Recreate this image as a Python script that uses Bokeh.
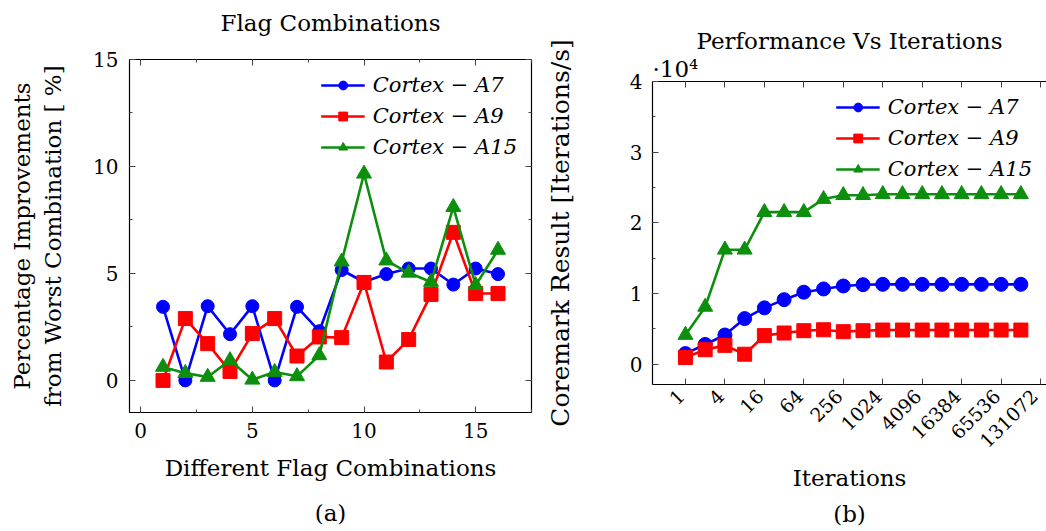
import math
from bokeh.plotting import figure
from bokeh.layouts import row, column
from bokeh.models import (Range1d, LinearAxis, LogAxis, FixedTicker,
                          SingleIntervalTicker, Title, CustomJSTickFormatter)
from bokeh.embed import file_html
from bokeh.resources import INLINE

FONT = "DejaVu Serif"

# ---------------- data: (a) Flag Combinations ----------------
combos = [1, 2, 3, 4, 5, 6, 7, 8, 9, 10, 11, 12, 13, 14, 15, 16]
a7_pct = [3.44, 0.0, 3.47, 2.16, 3.47, 0.0, 3.44, 2.30, 5.16, 4.60, 4.97, 5.23, 5.23, 4.48, 5.23, 4.97]
a9_pct = [0.0, 2.89, 1.72, 0.42, 2.19, 2.89, 1.14, 2.03, 2.00, 4.58, 0.86, 1.91, 4.02, 6.92, 4.06, 4.06]
a15_pct = [0.63, 0.34, 0.16, 0.94, 0.03, 0.39, 0.19, 1.17, 5.55, 9.66, 5.60, 5.03, 4.60, 8.10, 4.45, 6.10]

# ---------------- data: (b) Performance Vs Iterations ----------------
iterations = [1, 2, 4, 8, 16, 32, 64, 128, 256, 512, 1024, 2048, 4096, 8192,
              16384, 32768, 65536, 131072]
a7_perf = [1480, 2770, 4110, 6430, 7950, 9110, 10170, 10630, 11050, 11230, 11280,
           11280, 11280, 11280, 11280, 11280, 11280, 11280]
a9_perf = [920, 2030, 2640, 1390, 4020, 4390, 4720, 4850, 4580, 4720, 4810,
           4810, 4810, 4810, 4810, 4810, 4810, 4810]
a15_perf = [4110, 8090, 16180, 16180, 21500, 21500, 21500, 23350, 23900, 23900, 24040,
            24040, 24040, 24040, 24040, 24040, 24040, 24040]
iter_tick_labels = ["1", "4", "16", "64", "256", "1024", "4096", "16384", "65536", "131072"]
perf_tick_labels = ["0", "1", "2", "3", "4"]

series_names = ["Cortex \u2212 A7", "Cortex \u2212 A9", "Cortex \u2212 A15"]

BLUE = "#0000ff"
RED = "#ff0000"
GREEN = "#0c8f0c"

TICK_FS = "20px"
LABEL_FS = "23px"
TITLE_FS = "23px"
LEGEND_FS = "21px"


def style_axis(ax):
    ax.major_tick_in = 6
    ax.major_tick_out = 0
    ax.minor_tick_in = 3
    ax.minor_tick_out = 0
    ax.major_tick_line_color = "#444444"
    ax.minor_tick_line_color = "#444444"
    ax.major_label_text_font = FONT
    ax.major_label_text_font_size = TICK_FS
    ax.major_label_text_color = "black"
    ax.axis_label_text_font = FONT
    ax.axis_label_text_font_size = LABEL_FS
    ax.axis_label_text_font_style = "normal"
    ax.axis_label_text_color = "black"


def mirror_axis(cls, ticker):
    ax = cls(ticker=ticker)
    style_axis(ax)
    ax.formatter = CustomJSTickFormatter(code="return ''")
    ax.major_label_standoff = 0
    ax.axis_line_color = None
    return ax


def style_legend(p):
    leg = p.legend[0]
    leg.location = "top_right"
    leg.border_line_alpha = 0
    leg.background_fill_alpha = 0
    leg.label_text_font = FONT
    leg.label_text_font_style = "italic"
    leg.label_text_font_size = LEGEND_FS
    leg.label_text_color = "black"
    leg.glyph_width = 44
    leg.glyph_height = 22
    leg.label_height = 22
    leg.spacing = 7
    leg.label_standoff = 8
    leg.margin = 6
    leg.padding = 8


def title(text, size, align="center", standoff=0):
    return Title(text=text, align=align, text_font=FONT, text_font_size=size,
                 text_font_style="normal", text_color="black", standoff=standoff)


# ---------------- figure (a) ----------------
pa = figure(width=540, height=531, output_backend="svg", toolbar_location=None,
            x_range=Range1d(-0.5, 17.5), y_range=Range1d(-1.5, 15),
            min_border_left=129, min_border_right=9, min_border_top=59, min_border_bottom=119)
pa.grid.visible = False
pa.outline_line_color = "black"
pa.outline_line_width = 1.2

xt_a = SingleIntervalTicker(interval=5, num_minor_ticks=2)
yt_a = SingleIntervalTicker(interval=5, num_minor_ticks=2)
pa.xaxis[0].ticker = xt_a
pa.yaxis[0].ticker = yt_a
for ax in pa.axis:
    style_axis(ax)
    ax.axis_line_color = None
pa.xaxis[0].major_label_standoff = 10
pa.yaxis[0].major_label_standoff = 11
pa.xaxis[0].axis_label_standoff = 14
pa.yaxis[0].axis_label_standoff = 24
pa.xaxis[0].axis_label = "Different Flag Combinations\n(a)"
pa.xaxis[0].axis_label_text_line_height = 1.74
pa.yaxis[0].axis_label = "Percentage Improvements\nfrom Worst Combination [ %]"
top_a = mirror_axis(LinearAxis, xt_a)
top_a.axis_label = "Flag Combinations"
top_a.axis_label_standoff = 24
top_a.axis_label_text_font_size = TITLE_FS
pa.add_layout(top_a, "above")
pa.add_layout(mirror_axis(LinearAxis, yt_a), "right")

for vals, col, mk, sz, name in [(a7_pct, BLUE, "circle", 13, series_names[0]),
                                (a9_pct, RED, "square", 14, series_names[1]),
                                (a15_pct, GREEN, "triangle", 15, series_names[2])]:
    pa.line(combos, vals, line_color=col, line_width=2.6, legend_label=name)
    pa.scatter(combos, vals, marker=mk, size=sz, fill_color=col, line_color=col,
               legend_label=name)
style_legend(pa)

# ---------------- figure (b) ----------------
pb = figure(width=506, height=531, output_backend="svg", toolbar_location=None,
            x_axis_type="log",
            x_range=Range1d(2 ** -1.67, 2 ** 18.3), y_range=Range1d(-2900, 40000),
            min_border_left=112, min_border_right=0, min_border_top=81, min_border_bottom=141)
pb.title.text = "Performance Vs Iterations"
pb.title.align = "center"
pb.title.text_font = FONT
pb.title.text_font_size = TITLE_FS
pb.title.text_font_style = "normal"
pb.title.text_color = "black"
pb.title.standoff = 0
pb.grid.visible = False
pb.outline_line_color = None

tick_pos = [4 ** k for k in range(len(iter_tick_labels))]
xt_b = FixedTicker(ticks=tick_pos, minor_ticks=[])
yt_b = SingleIntervalTicker(interval=10000, num_minor_ticks=2)
pb.xaxis[0].ticker = xt_b
pb.yaxis[0].ticker = yt_b
for ax in pb.axis:
    style_axis(ax)
    ax.axis_line_color = "black"
    ax.axis_line_width = 1.2
pb.xaxis[0].major_label_overrides = {t: s + "\u00a0" for t, s in zip(tick_pos, iter_tick_labels)}
pb.yaxis[0].major_label_overrides = {i * 10000: s for i, s in enumerate(perf_tick_labels)}
pb.xaxis[0].major_label_orientation = math.pi / 4
pb.xaxis[0].major_label_text_font_size = "19px"
pb.xaxis[0].major_label_standoff = 4
pb.yaxis[0].major_label_standoff = 10
pb.xaxis[0].axis_label_standoff = 2
pb.yaxis[0].axis_label_standoff = 52
pb.yaxis[0].axis_label_text_font_size = "25px"
pb.xaxis[0].axis_label = "Iterations"
pb.yaxis[0].axis_label = "Coremark Result [Iterations/s]"
top_b = mirror_axis(LogAxis, xt_b)
top_b.axis_line_color = "black"
top_b.axis_line_width = 1.2
pb.add_layout(top_b, "above")
pb.add_layout(title("\u00b710\u2074", TITLE_FS, align="left", standoff=0), "above")

for vals, col, mk, sz, name in [(a7_perf, BLUE, "circle", 14, series_names[0]),
                                (a9_perf, RED, "square", 14, series_names[1]),
                                (a15_perf, GREEN, "triangle", 15, series_names[2])]:
    pb.line(iterations, vals, line_color=col, line_width=2.6, legend_label=name)
    pb.scatter(iterations, vals, marker=mk, size=sz, fill_color=col, line_color=col,
               legend_label=name)
style_legend(pb)
pb.add_layout(title("(b)", TITLE_FS, standoff=10), "below")

layout = row(column(pa), column(pb))
open("out.html", "w").write(file_html(layout, INLINE))
